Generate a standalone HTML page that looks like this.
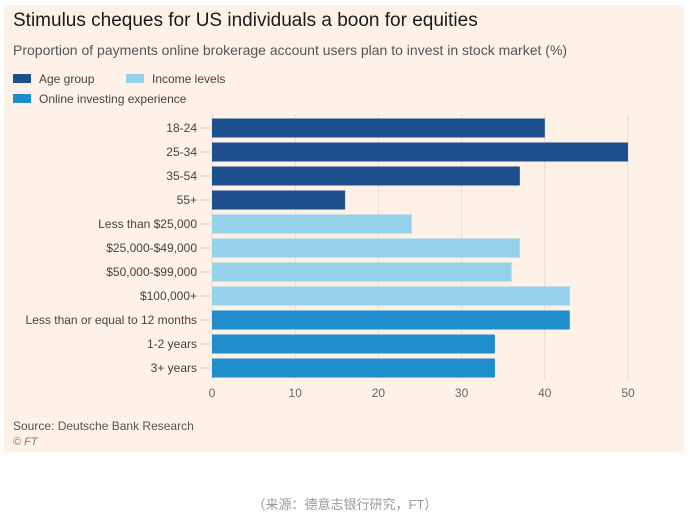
<!DOCTYPE html>
<html><head><meta charset="utf-8"><style>
body{margin:0;width:690px;height:518px;background:#fff;font-family:"Liberation Sans","Noto Sans CJK SC",sans-serif;position:relative;overflow:hidden}
#panel{position:absolute;left:4px;top:5px;width:680px;height:447px;background:#fdf1e8}
.t{position:absolute;white-space:nowrap}
</style></head><body>
<div id="panel"></div>
<div class="t" style="left:13px;top:10px;font-size:19px;color:#1a1a1a">Stimulus cheques for US individuals a boon for equities</div>
<div class="t" style="left:13px;top:42px;font-size:14px;color:#555">Proportion of payments online brokerage account users plan to invest in stock market (%)</div>
<div class="t" style="left:13px;top:72px;font-size:12px;color:#444"><span style="display:inline-block;width:18px;height:9px;background:#1d4f8c;margin-right:8px"></span>Age group</div>
<div class="t" style="left:126px;top:72px;font-size:12px;color:#444"><span style="display:inline-block;width:18px;height:9px;background:#94d2ec;margin-right:8px"></span>Income levels</div>
<div class="t" style="left:13px;top:92px;font-size:12px;color:#444"><span style="display:inline-block;width:18px;height:9px;background:#1f8ccc;margin-right:8px"></span>Online investing experience</div>
<svg id="chart" width="690" height="518" style="position:absolute;left:0;top:0"></svg>
<div class="t" style="left:13px;top:419px;font-size:12px;color:#555">Source: Deutsche Bank Research</div>
<div class="t" style="left:13px;top:436px;font-size:11px;color:#777;font-style:italic">© FT</div>
<div class="t" style="left:0;width:690px;text-align:center;top:494px;font-size:13px;color:#999">（来源：德意志银行研究，FT）</div>
<script>
const categories=["18-24","25-34","35-54","55+","Less than $25,000","$25,000-$49,000","$50,000-$99,000","$100,000+","Less than or equal to 12 months","1-2 years","3+ years"];
const values=[40,50,37,16,24,37,36,43,43,34,34];
const groups=[0,0,0,0,1,1,1,1,2,2,2];
const ticks=[0,10,20,30,40,50];
const colors=["#1d4f8c","#94d2ec","#1f8ccc"];
const ns="http://www.w3.org/2000/svg",svg=document.getElementById('chart');
const x=v=>212+v*8.32, y=i=>128+i*24;
function mk(t,a){const e=document.createElementNS(ns,t);for(const k in a)e.setAttribute(k,a[k]);svg.appendChild(e);return e;}
ticks.forEach(t=>{
 const g=mk('line',{x1:x(t),x2:x(t),y1:114,y2:380,stroke:'#ecdcd0','stroke-width':1});
 
 
 const l=mk('text',{x:x(t),y:397,'text-anchor':'middle','font-size':12,fill:'#666','font-family':'Liberation Sans'});
 l.textContent=t;
 
 
});
categories.forEach((c,i)=>{
 const b=mk('rect',{x:x(0),y:y(i)-9.5,width:x(values[i])-x(0),height:19,fill:colors[groups[i]]});
 
 
 const l=mk('text',{x:197,y:y(i)+4,'text-anchor':'end','font-size':12,fill:'#444','font-family':'Liberation Sans'});
 l.textContent=c;
 
 
 const tk=mk('line',{x1:201,x2:210,y1:y(i),y2:y(i),stroke:'#ccc'});
 
 
});
</script>
</body></html>
